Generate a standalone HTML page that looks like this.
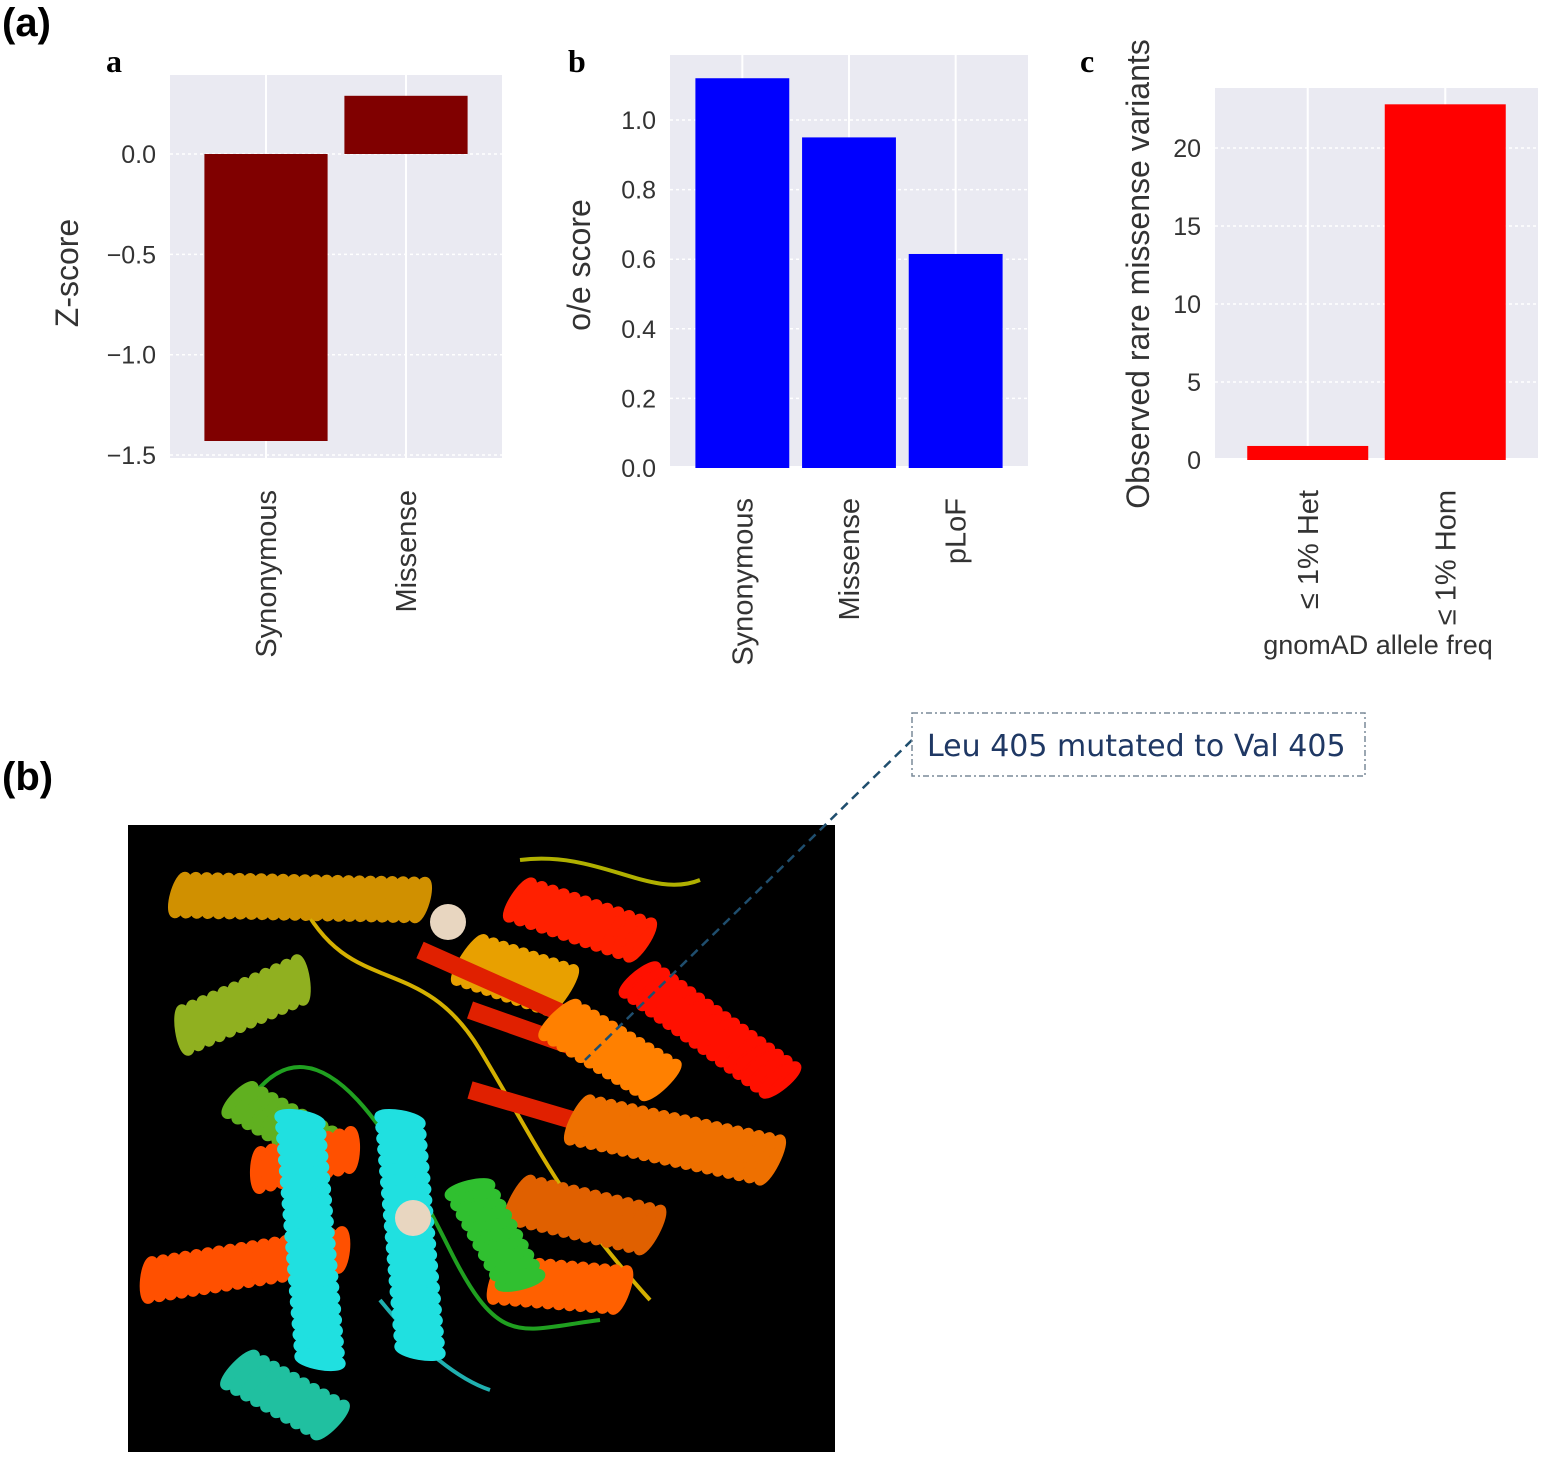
<!DOCTYPE html>
<html><head><meta charset="utf-8"><style>
body{margin:0;background:#fff;width:1549px;height:1465px;overflow:hidden;font-family:"Liberation Sans",sans-serif}
svg{position:absolute;left:0;top:0}
</style></head><body>
<svg id="s" width="1549" height="1465"></svg>
<script>
const aCats=["Synonymous","Missense"], aVals=[-1.43,0.29], aTicks=[0.0,-0.5,-1.0,-1.5];
const bCats=["Synonymous","Missense","pLoF"], bVals=[1.12,0.95,0.615], bTicks=[0.0,0.2,0.4,0.6,0.8,1.0];
const cCats=["≤ 1%  Het","≤ 1% Hom"], cVals=[0.9,22.8], cTicks=[0,5,10,15,20];
const NS="http://www.w3.org/2000/svg", S=document.getElementById('s');
function el(t,a,p){const e=document.createElementNS(NS,t);for(const k in a)e.setAttribute(k,a[k]);(p||S).appendChild(e);return e}
function txt(x,y,s,a,p){const e=el('text',Object.assign({x:x,y:y},a),p);e.textContent=s;return e}
function chart(o){
 const g=el('g',{});
 
 
 const r=el('rect',{x:o.x0,y:o.y0,width:o.x1-o.x0,height:o.y1-o.y0,fill:'#eaeaf2'},g);
 
 const y=v=>o.yz+(v-o.vz)*o.k;
 o.ticks.forEach(t=>{
  el('line',{x1:o.x0,x2:o.x1,y1:y(t),y2:y(t),stroke:'#fff','stroke-width':1.5,'stroke-dasharray':'3,3'},g);
  const tl=txt(o.x0-14,y(t)+9,o.fmt(t),{'font-size':25,'text-anchor':'end',fill:'#333'},g);
  
 });
 const n=o.cats.length,bw=(o.x1-o.x0-o.pad*2)/n;
 o.cats.forEach((c,i)=>{
  const cx=o.x0+o.pad+bw*(i+.5);
  el('line',{x1:cx,x2:cx,y1:o.y0,y2:o.y1,stroke:'#fff','stroke-width':2},g);
 });
 o.cats.forEach((c,i)=>{
  const cx=o.x0+o.pad+bw*(i+.5),v=o.vals[i];
  const b=el('rect',{x:cx-bw*.44,width:bw*.88,y:Math.min(y(v),y(0)),height:Math.abs(y(v)-y(0)),fill:o.color},g);
  
  
  const t=txt(0,0,c,{'font-size':29,'text-anchor':'end',fill:'#333',transform:`translate(${cx+10},${o.y1+32}) rotate(-90)`},g);
  
 });
 const yt=txt(0,0,o.ylab,{'font-size':32,'text-anchor':'middle',fill:'#333',transform:`translate(${o.ylx},${o.ylc}) rotate(-90)`},g);
 
 const pl=txt(o.lx,72,o.letter,{'font-size':32,'font-weight':'bold','font-family':'Liberation Serif',fill:'#000'},g);
 
}
chart({name:'chart-a-zscore',x0:170,x1:502,y0:75,y1:458,yz:154,vz:0,k:-200.7,ticks:aTicks,fmt:t=>(t<0?'−':'')+Math.abs(t).toFixed(1),cats:aCats,vals:aVals,color:'#800000',pad:26,ylab:'Z-score',ylx:78,ylc:273,lx:106,letter:'a'});
chart({name:'chart-b-oe',x0:670,x1:1028,y0:55,y1:466,yz:468,vz:0,k:-348,ticks:bTicks,fmt:t=>t.toFixed(1),cats:bCats,vals:bVals,color:'#0000ff',pad:19,ylab:'o/e score',ylx:590,ylc:265,lx:568,letter:'b'});
chart({name:'chart-c-missense',x0:1215,x1:1538,y0:88,y1:458,yz:460,vz:0,k:-15.6,ticks:cTicks,fmt:t=>String(t),cats:cCats,vals:cVals,color:'#ff0000',pad:24,ylab:'Observed rare missense variants',ylx:1149,ylc:274,lx:1080,letter:'c'});
const gx=txt(1378,654,'gnomAD allele freq',{'font-size':27,'text-anchor':'middle',fill:'#333'});

const la=txt(2,36,'(a)',{'font-size':40,'font-weight':'bold',fill:'#000'});

const lb=txt(2,790,'(b)',{'font-size':40,'font-weight':'bold',fill:'#000'});

// protein image
const pg=el('g',{});


el('rect',{x:128,y:825,width:707,height:627,fill:'#000'},pg);
function helix(x1,y1,x2,y2,w,col){const n=Math.round(Math.hypot(x2-x1,y2-y1)/11);for(let i=0;i<=n;i++){const x=x1+(x2-x1)*i/n,y=y1+(y2-y1)*i/n;const a=Math.atan2(y2-y1,x2-x1)*180/Math.PI;el('ellipse',{cx:x,cy:y,rx:6,ry:w,fill:col,stroke:col,'stroke-width':8,transform:`rotate(${a+15},${x},${y})`},pg)}}
function strand(x1,y1,x2,y2,col){el('line',{x1,y1,x2,y2,stroke:col,'stroke-width':18},pg)}
function loop(d,col){el('path',{d,fill:'none',stroke:col,'stroke-width':4},pg)}
loop('M300 900 C350 1000 420 950 480 1050 S560 1200 650 1300','#d4b000');
loop('M250 1100 C320 1000 400 1150 450 1250 S520 1330 600 1320','#20a020');
loop('M520 860 C600 850 650 900 700 880','#b0b000');
loop('M380 1300 C420 1350 460 1380 490 1390','#20b0b0');
helix(180,895,420,900,20,'#d09000');
helix(185,1030,300,980,22,'#90b020');
helix(240,1100,330,1150,20,'#60b020');
helix(470,960,560,990,26,'#e8a000');
strand(420,950,600,1030,'#e02000');strand(470,1010,640,1070,'#e02000');strand(470,1090,640,1140,'#e02000');
helix(520,900,640,940,22,'#ff2000');helix(640,980,780,1080,22,'#ff1000');
helix(560,1020,660,1080,24,'#ff8000');helix(580,1120,770,1160,24,'#ee7000');
helix(520,1200,650,1230,24,'#e06000');helix(500,1280,620,1290,22,'#ff6000');
helix(150,1280,340,1250,20,'#ff5000');helix(260,1170,350,1150,20,'#ff5000');
helix(300,1120,320,1360,22,'#20e0e0');helix(400,1120,420,1350,22,'#20e0e0');
helix(240,1370,330,1420,22,'#20c0a0');
helix(470,1190,520,1280,22,'#30c030');
el('circle',{cx:448,cy:922,r:18,fill:'#e8d6c0'},pg);
el('circle',{cx:413,cy:1218,r:18,fill:'#e8d6c0'},pg);
// annotation
el('line',{x1:912,y1:740,x2:585,y2:1060,stroke:'#1f4e6e','stroke-width':2.5,'stroke-dasharray':'9,6'});
const box=el('rect',{x:912,y:713,width:453,height:63,fill:'#fff',stroke:'#7a8a99','stroke-width':1.5,'stroke-dasharray':'6,3,2,3'});

const at=txt(927,756,'Leu 405 mutated to Val 405',{'font-size':30,fill:'#1f3864','font-family':'DejaVu Sans'});

</script>
</body></html>
